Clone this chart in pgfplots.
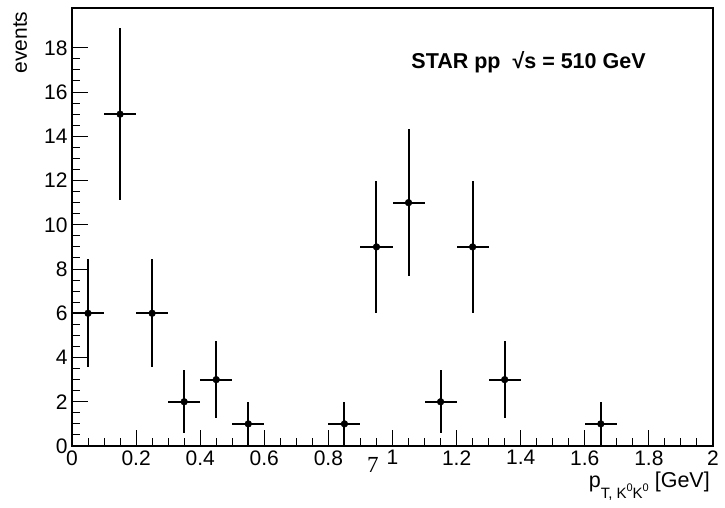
\documentclass[border=0pt]{standalone}
\usepackage{fontspec}
\setmainfont{Liberation Sans}
\newfontfamily\serifnum{Liberation Serif}
\usepackage{pgfplots}
\usepackage{pgfplotstable}
\pgfplotsset{compat=1.18}

% counts per 0.1 GeV bin, x/y half-errors (bin half width, sqrt N)
\pgfplotstableread{
x     y   ex    ey
0.05  6   0.05  2.449
0.15  15  0.05  3.873
0.25  6   0.05  2.449
0.35  2   0.05  1.414
0.45  3   0.05  1.732
0.55  1   0.05  1.0
0.85  1   0.05  1.0
0.95  9   0.05  3.0
1.05  11  0.05  3.317
1.15  2   0.05  1.414
1.25  9   0.05  3.0
1.35  3   0.05  1.732
1.65  1   0.05  1.0
}\kkdata

\begin{document}
\begin{tikzpicture}
\useasboundingbox (0,0) rectangle (725pt,508pt);
\begin{axis}[
  at={(72pt,62pt)}, anchor=south west,
  scale only axis, width=641pt, height=438pt,
  xmin=0, xmax=2, ymin=0, ymax=19.8,
  xtick={0,0.2,...,2.01}, ytick={0,2,...,18},
  minor x tick num=3, minor y tick num=3,
  tick pos=left, tick align=inside,
  major tick length=16pt, minor tick length=8pt,
  axis line style={line width=1.2pt},
  every tick/.style={black, line width=1pt},
  tick label style={font=\fontsize{21}{21}\selectfont},
  /pgf/number format/assume math mode=true,
  xticklabel style={yshift=-1pt},
  yticklabel style={xshift=-1pt},
  every error bar/.append style={line width=2pt, black},
  clip=false,
]
\addplot[black, only marks, mark=*, mark size=3.4pt,
  error bars/.cd, x dir=both, x explicit, y dir=both, y explicit,
  error mark=none]
  table[x=x, y=y, x error=ex, y error=ey] {\kkdata};
\node[anchor=base west, font=\bfseries\fontsize{21.5}{21.5}\selectfont]
  at (axis cs:1.048,17.05) {STAR pp \ √s = 510 GeV};
\node[font=\serifnum\fontsize{23}{23}\selectfont] at (axis cs:0.939,-0.85) {7};
\end{axis}
\node[rotate=90, anchor=base east, font=\fontsize{21}{21}\selectfont]
  at (27pt,500pt) {events};
\node[anchor=base east, font=\fontsize{21.5}{21.5}\selectfont, inner sep=0pt]
  at (710pt,20pt) {p\raisebox{-11pt}{\fontsize{15}{15}\selectfont T, K\raisebox{7pt}{\fontsize{11}{11}\selectfont 0}K\raisebox{7pt}{\fontsize{11}{11}\selectfont 0}} [GeV]};
\end{tikzpicture}
\end{document}
